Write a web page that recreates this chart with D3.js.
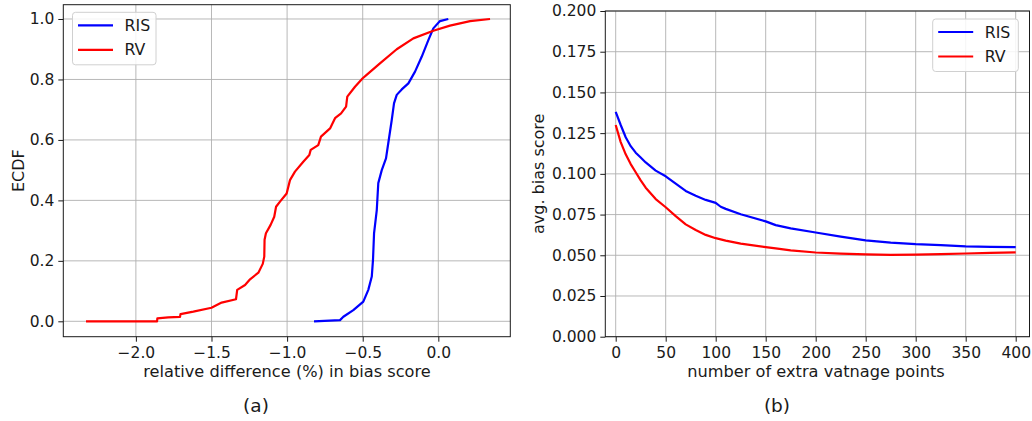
<!DOCTYPE html>
<html>
<head>
<meta charset="utf-8">
<script src="https://cdn.jsdelivr.net/npm/d3@7"></script>
<style>
  body { margin: 0; background: #fff; }
  text { font-family: "DejaVu Sans", sans-serif; fill: #1a1a1a; }
</style>
</head>
<body>
<script>
const W = 1032, H = 421

// (a) ECDF of relative difference
const ecdfRvX = [-2.33, -1.86, -1.858, -1.786, -1.708, -1.705, -1.62, -1.50, -1.433, -1.338, -1.33, -1.278, -1.245, -1.19, -1.161, -1.151, -1.149, -1.14, -1.109, -1.085, -1.073, -1.047, -1.003, -0.981, -0.948, -0.893, -0.853, -0.844, -0.794, -0.776, -0.716, -0.683, -0.643, -0.61, -0.602, -0.551, -0.5, -0.474, -0.386, -0.275, -0.165, -0.033, 0.077, 0.21, 0.342]
const ecdfRvY = [0, 0, 0.01, 0.013, 0.015, 0.024, 0.032, 0.045, 0.062, 0.073, 0.104, 0.12, 0.139, 0.161, 0.19, 0.214, 0.27, 0.291, 0.319, 0.346, 0.379, 0.396, 0.423, 0.467, 0.495, 0.528, 0.55, 0.567, 0.583, 0.611, 0.638, 0.672, 0.688, 0.71, 0.743, 0.776, 0.804, 0.815, 0.853, 0.9, 0.936, 0.961, 0.978, 0.993, 1.0]
const ecdfRisX = [-0.822, -0.65, -0.628, -0.562, -0.496, -0.463, -0.44, -0.432, -0.425, -0.407, -0.397, -0.374, -0.346, -0.331, -0.308, -0.293, -0.275, -0.242, -0.198, -0.154, -0.11, -0.066, -0.033, 0.011, 0.066]
const ecdfRisY = [0, 0.004, 0.015, 0.037, 0.065, 0.104, 0.148, 0.203, 0.291, 0.368, 0.457, 0.5, 0.539, 0.589, 0.666, 0.721, 0.749, 0.767, 0.787, 0.826, 0.875, 0.93, 0.969, 0.993, 1.0]
const ticksA_x = [-2.0, -1.5, -1.0, -0.5, 0.0]
const ticksA_y = [0, 0.2, 0.4, 0.6, 0.8, 1.0]

// (b) avg. bias score vs extra vantage points
const extraPoints = [0, 5, 10, 15, 20, 25, 30, 40, 50, 60, 70, 80, 90, 100, 105, 110, 125, 150, 160, 175, 200, 225, 250, 275, 300, 325, 350, 375, 400]
const biasRis = [0.138, 0.130, 0.1225, 0.117, 0.113, 0.110, 0.107, 0.102, 0.0985, 0.094, 0.0895, 0.0865, 0.084, 0.0822, 0.0798, 0.0785, 0.0752, 0.0708, 0.0685, 0.0665, 0.064, 0.0615, 0.0592, 0.0578, 0.0568, 0.0562, 0.0555, 0.0552, 0.055]
const biasRv = [0.130, 0.1195, 0.112, 0.106, 0.101, 0.096, 0.0915, 0.0845, 0.0795, 0.074, 0.069, 0.0655, 0.0625, 0.0605, 0.0598, 0.059, 0.0572, 0.055, 0.0542, 0.053, 0.0517, 0.051, 0.0505, 0.0503, 0.0504, 0.0507, 0.0511, 0.0515, 0.0518]
const ticksB_x = [0, 50, 100, 150, 200, 250, 300, 350, 400]
const ticksB_y = [0, 0.025, 0.05, 0.075, 0.1, 0.125, 0.15, 0.175, 0.2]

const seriesNames = ["RIS", "RV"]
const seriesColors = ["#0000ff", "#ff0000"]

const svg = d3.select("body").append("svg")
    .attr("width", W).attr("height", H)

function panel(o) {
  const x = d3.scaleLinear().domain(o.xDomain).range([o.left, o.right])
  const y = d3.scaleLinear().domain(o.yDomain).range([o.bottom, o.top])
  const g = svg.append("g")

  // grid
  g.append("g").selectAll("line").data(o.xTicks).join("line")
      .attr("x1", d => x(d)).attr("x2", d => x(d))
      .attr("y1", o.top).attr("y2", o.bottom)
      .attr("stroke", "#b0b0b0").attr("stroke-width", 0.9)
  g.append("g").selectAll("line").data(o.yTicks).join("line")
      .attr("y1", d => y(d)).attr("y2", d => y(d))
      .attr("x1", o.left).attr("x2", o.right)
      .attr("stroke", "#b0b0b0").attr("stroke-width", 0.9)

  // lines
  const line = d3.line().x(d => x(d[0])).y(d => y(d[1]))
  o.series.forEach((s, i) => {
    g.append("path")
        .datum(d3.zip(s.x, s.y))
        .attr("fill", "none")
        .attr("stroke", seriesColors[i])
        .attr("stroke-width", 2.2)
        .attr("stroke-linejoin", "round")
        .attr("d", line)
  })

  // axes
  const xa = g.append("g")
      .attr("transform", `translate(0,${o.bottom})`)
      .call(d3.axisBottom(x).tickValues(o.xTicks).tickFormat(d3.format(o.xFmt))
        .tickSize(5).tickPadding(5).tickSizeOuter(0))
  const ya = g.append("g")
      .attr("transform", `translate(${o.left},0)`)
      .call(d3.axisLeft(y).tickValues(o.yTicks).tickFormat(d3.format(o.yFmt))
        .tickSize(5).tickPadding(4).tickSizeOuter(0))
  ;[xa, ya].forEach(a => {
    a.select(".domain").remove()
    a.selectAll("text").attr("font-size", 15.5).attr("font-family", "DejaVu Sans").attr("fill", "#1a1a1a")
    a.selectAll(".tick line").attr("stroke", "#1a1a1a").attr("stroke-width", 1)
  })

  // frame
  g.append("rect")
      .attr("x", o.left).attr("y", o.top)
      .attr("width", o.right - o.left).attr("height", o.bottom - o.top)
      .attr("fill", "none").attr("stroke", "#1a1a1a").attr("stroke-width", 1)

  // labels
  g.append("text")
      .attr("x", o.xLabelX).attr("y", 377)
      .attr("text-anchor", "middle").attr("font-size", 16.2)
      .text(o.xLabel)
  g.append("text")
      .attr("transform", `translate(${o.yLabelX},${(o.top + o.bottom) / 2}) rotate(-90)`)
      .attr("text-anchor", "middle").attr("font-size", 16)
      .text(o.yLabel)
  g.append("text")
      .attr("x", o.capX).attr("y", 412)
      .attr("text-anchor", "middle").attr("font-size", 18.5)
      .attr("font-family", "DejaVu Serif")
      .text(o.caption)

  // legend
  const lg = g.append("g").attr("transform", `translate(${o.legX},${o.legY})`)
  lg.append("rect")
      .attr("width", o.legW).attr("height", 52.5).attr("rx", 3)
      .attr("fill", "#fff").attr("fill-opacity", 0.85)
      .attr("stroke", "#d0d0d0").attr("stroke-width", 1)
  seriesNames.forEach((n, i) => {
    const yy = 13 + i * 24.5
    lg.append("line")
        .attr("x1", 5.5).attr("x2", 40.5).attr("y1", yy).attr("y2", yy)
        .attr("stroke", seriesColors[i]).attr("stroke-width", 2.2)
    lg.append("text")
        .attr("x", 52).attr("y", yy).attr("dy", "0.36em")
        .attr("font-size", 15.8).text(n)
  })
}

panel({
  left: 63.3, right: 510.3, top: 4.7, bottom: 336.7,
  xDomain: [-2.480, 0.476], yDomain: [-0.0509, 1.0473],
  xTicks: ticksA_x, yTicks: ticksA_y, xFmt: ".1f", yFmt: ".1f",
  series: [{x: ecdfRisX, y: ecdfRisY}, {x: ecdfRvX, y: ecdfRvY}],
  xLabel: "relative difference (%) in bias score", xLabelX: 287,
  yLabel: "ECDF", yLabelX: 24,
  caption: "(a)", capX: 256,
  legX: 72.5, legY: 12.3, legW: 83.5
})

panel({
  left: 605.3, right: 1029.5, top: 11, bottom: 336.7,
  xDomain: [-10.4, 413.8], yDomain: [0, 0.2],
  xTicks: ticksB_x, yTicks: ticksB_y, xFmt: "d", yFmt: ".3f",
  series: [{x: extraPoints, y: biasRis}, {x: extraPoints, y: biasRv}],
  xLabel: "number of extra vatnage points", xLabelX: 816,
  yLabel: "avg. bias score", yLabelX: 544,
  caption: "(b)", capX: 777,
  legX: 932.7, legY: 19, legW: 85.6
})
</script>
</body>
</html>
